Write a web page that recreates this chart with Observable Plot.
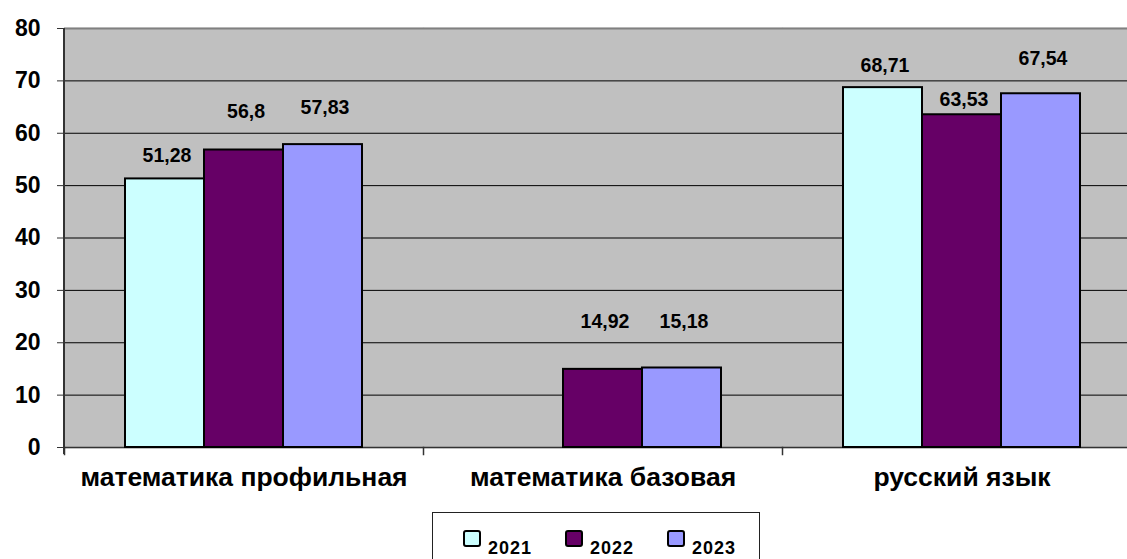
<!DOCTYPE html>
<html><head><meta charset="utf-8">
<script src="https://cdn.jsdelivr.net/npm/d3@7"></script>
<script src="https://cdn.jsdelivr.net/npm/@observablehq/plot@0.6"></script>
<style>
html,body{margin:0;padding:0;overflow:hidden;background:#fff;width:1127px;height:559px}
#wrap{position:relative;width:1127px;height:559px;overflow:hidden}
#chart{position:absolute;left:0;top:0}
#chart svg{max-width:none !important;width:1141px !important;height:505px !important}
#legend{position:absolute;left:432px;top:512px;width:328px;height:60px;border:1px solid #222;box-sizing:border-box;background:#fff;font-family:"Liberation Sans",Arial,sans-serif;font-weight:bold;font-size:18px;color:#000}
.sw{position:absolute;top:17px;width:14px;height:13px;border:2px solid #000;border-radius:3px}
.lab{position:absolute;top:27px;line-height:16px;letter-spacing:1px}
</style></head><body><div id="wrap"><div id="chart"></div><div id="legend"></div></div>
<script>
// ---- data ----
const categories = ["математика профильная", "математика базовая", "русский язык"];
const years = ["2021", "2022", "2023"];
const values2021 = [51.28, null, 68.71];
const values2022 = [56.8, 14.92, 63.53];
const values2023 = [57.83, 15.18, 67.54];
const yTicks = [0, 10, 20, 30, 40, 50, 60, 70, 80];

// ---- layout / style (kept apart from data) ----
const colors = ["#CCFFFF", "#660066", "#9999FF"];
// where each value label sits (in y-axis units), as placed in the original
const labelAt2021 = [55.75, null, 72.9];
const labelAt2022 = [64.2, 23.92, 66.4];
const labelAt2023 = [64.86, 23.92, 74.2];

const series = [values2021, values2022, values2023];
const labelAts = [labelAt2021, labelAt2022, labelAt2023];
const rows = [];
categories.forEach((c, i) => {
  series.forEach((arr, j) => {
    if (arr[i] != null) rows.push({category: c, year: years[j], value: arr[i], labelAt: labelAts[j][i]});
  });
});

const font = '"Liberation Sans", Arial, sans-serif';
const chart = Plot.plot({
  width: 1141, height: 505,
  marginLeft: 64, marginRight: 0, marginTop: 28, marginBottom: 58,
  style: {fontFamily: font, background: "transparent", color: "#000", overflow: "visible"},
  fx: {domain: categories, padding: 0, label: null, axis: null},
  x: {domain: years, paddingInner: 0, paddingOuter: 0.747, axis: null},
  y: {domain: [0, 80], axis: null},
  color: {domain: years, range: colors},
  marks: [
    Plot.frame({fill: "#C0C0C0", stroke: "#C0C0C0", strokeWidth: 1.5}),
    Plot.gridY(yTicks.filter(t => t > 0 && t < 80), {stroke: "#000", strokeOpacity: 1}),
    Plot.gridY([80], {stroke: "#808080", strokeOpacity: 1, strokeWidth: 2}),
    Plot.ruleY([0], {stroke: "#333", strokeWidth: 1.5}),
    Plot.frame({anchor: "left", insetTop: 419, insetBottom: -7, stroke: "#333", strokeWidth: 1.5}),
    Plot.barY(rows, {fx: "category", x: "year", y: "value", fill: "year", stroke: "#000", strokeWidth: 2}),
    Plot.text(rows, {fx: "category", x: "year", y: "labelAt", text: d => String(d.value).replace(".", ","),
      fontSize: 19.5, fontWeight: "bold", fill: "#000", lineAnchor: "middle", dx: 2, style: "letter-spacing:0.5px"}),
    Plot.axisY(yTicks, {tickSize: 7, tickPadding: 17, fontSize: 23, fontWeight: "bold", label: null, stroke: "#333", fill: "#000"}),
    Plot.axisFx({anchor: "bottom", tickSize: 0, tickPadding: 20, fontSize: 26.5, fontWeight: "bold", label: null, fill: "#000"})
  ]
});
document.getElementById("chart").appendChild(chart);

// left edge of the plot frame, placed from the chart's own scales
const fxS = chart.scale("fx"), yS = chart.scale("y");
d3.select(chart).append("line")
  .attr("x1", fxS.range[0]).attr("x2", fxS.range[0])
  .attr("y1", yS.range[1]).attr("y2", yS.range[0] + 7)
  .attr("stroke", "#333").attr("stroke-width", 2);

// legend
const legend = document.getElementById("legend");
const swLeft = [30, 132, 234];
years.forEach((y, j) => {
  const sw = document.createElement("div");
  sw.className = "sw";
  sw.style.left = swLeft[j] + "px";
  sw.style.background = colors[j];
  legend.appendChild(sw);
  const lab = document.createElement("div");
  lab.className = "lab";
  lab.style.left = (swLeft[j] + 25) + "px";
  lab.textContent = y;
  legend.appendChild(lab);
});
</script></body></html>
